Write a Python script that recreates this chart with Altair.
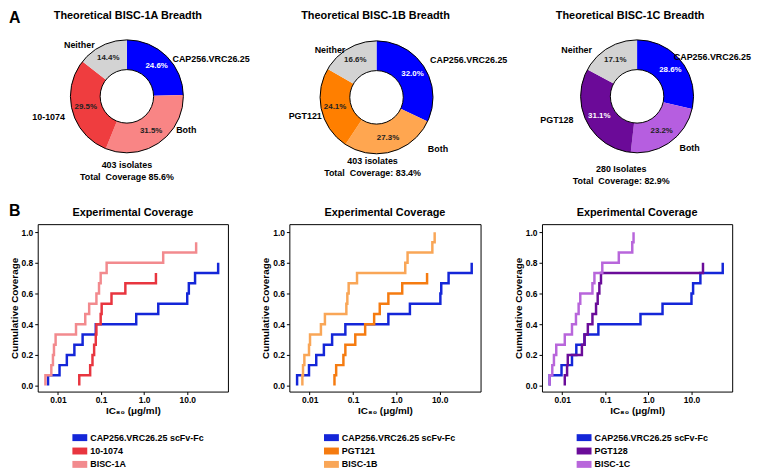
import math
import altair as alt
import pandas as pd

FONT = "Liberation Sans"

# ---------------- Panel A : theoretical breadth ----------------
TITLES_A = ["Theoretical BISC-1A Breadth", "Theoretical BISC-1B Breadth", "Theoretical BISC-1C Breadth"]
CAP_NAME = "CAP256.VRC26.25"
PARTNERS = ["10-1074", "PGT121", "PGT128"]
BOTH = "Both"
NEITHER = "Neither"
PCT_1A = [24.6, 31.5, 29.5, 14.4]   # CAP256, Both, partner, Neither
PCT_1B = [32.0, 27.3, 24.1, 16.6]
PCT_1C = [28.6, 23.2, 31.1, 17.1]
ISOLATE_TEXT = ["403 isolates", "403 isolates", "280 Isolates"]
COVERAGE_TEXT = ["Total\u00a0 Coverage 85.6%", "Total\u00a0 Coverage: 83.4%", "Total\u00a0 Coverage: 82.9%"]

# ---------------- Panel B : experimental coverage ----------------
N_ISOLATES = 15
LEGEND_NAMES = [
    ["CAP256.VRC26.25 scFv-Fc", "10-1074", "BISC-1A"],
    ["CAP256.VRC26.25 scFv-Fc", "PGT121", "BISC-1B"],
    ["CAP256.VRC26.25 scFv-Fc", "PGT128", "BISC-1C"],
]
# IC80 (ug/ml) at which each successive isolate is neutralized
CAP_1A = [0.0059, 0.0109, 0.0161, 0.0241, 0.0374, 0.0756, 0.656, 2.13, 10.0, 10.9, 15.2, 52.2]
AB_1A = [0.0313, 0.0560, 0.0634, 0.0692, 0.0756, 0.0782, 0.0982, 0.1035, 0.175, 0.367, 1.88]
BISC_1A = [0.00513, 0.00703, 0.00767, 0.0081, 0.00884, 0.0263, 0.0431, 0.0531, 0.0782, 0.0899,
           0.0982, 0.135, 2.77, 16.1]
CAP_1B = [0.00513, 0.00966, 0.0142, 0.0213, 0.0330, 0.0667, 0.656, 2.06, 10.4, 10.9, 16.1, 55.0]
AB_1B = [0.0374, 0.0409, 0.0601, 0.0667, 0.113, 0.191, 0.308, 0.415, 0.656, 1.37, 5.13]
BISC_1B = [0.00679, 0.00703, 0.00755, 0.00966, 0.0102, 0.0182, 0.0225, 0.0703, 0.0741, 0.0795,
           0.124, 1.61, 1.82, 6.79, 7.68]
CAP_1C = [0.00513, 0.00966, 0.0169, 0.0213, 0.0330, 0.0692, 0.656, 2.13, 10.0, 10.9, 16.1, 53.1]
AB_1C = [0.0115, 0.0130, 0.0135, 0.0287, 0.0330, 0.0394, 0.0504, 0.0611, 0.0667, 0.0729, 0.0795, 18.5]
BISC_1C = [0.00513, 0.0059, 0.00644, 0.00729, 0.0115, 0.0169, 0.0209, 0.0241, 0.0263, 0.0504,
           0.0560, 0.0853, 0.206, 0.423, 0.453]

X_TICKS = [0.01, 0.1, 1, 10]
X_TICK_LABELS = ["0.01", "0.1", "1.0", "10.0"]
Y_TICKS = [0.0, 0.2, 0.4, 0.6, 0.8, 1.0]

# ---------------- styles ----------------
BLUE = "#0000FF"
SLICE_COLORS = [
    [BLUE, "#F98585", "#EF3D3F", "#D3D3D3"],
    [BLUE, "#FFA650", "#FF7F00", "#D3D3D3"],
    [BLUE, "#B65EE0", "#6B0A98", "#D3D3D3"],
]
PCT_TEXT_COLORS = [
    ["white", "#222222", "#222222", "#222222"],
    ["white", "#222222", "#222222", "#222222"],
    ["white", "#222222", "white", "#222222"],
]
LINE_COLORS = [
    ["#1426D8", "#E8353F", "#F28A8E"],
    ["#1426D8", "#F57B10", "#F9A657"],
    ["#1426D8", "#6A0C99", "#B866DB"],
]

DUMMY = alt.Data(values=[{}])


def txt(s, x, y, size=9, align="center", baseline="middle", color="black"):
    return alt.Chart(DUMMY).mark_text(
        text=s, font=FONT, fontSize=size, fontWeight="bold", align=align,
        baseline=baseline, color=color,
    ).encode(x=alt.value(x), y=alt.value(y))


def donut(pcts, names, colors, tcolors, cx, cy):
    df = pd.DataFrame({
        "segment": names, "pct": pcts, "idx": list(range(len(pcts))),
        "fill": colors, "tcol": tcolors,
    })
    df["label"] = [f"{p:.1f}%" for p in pcts]
    base = alt.Chart(df).encode(
        theta=alt.Theta("pct:Q", stack=True),
        order=alt.Order("idx:Q"),
        x=alt.value(cx), y=alt.value(cy),
    )
    arcs = base.mark_arc(innerRadius=27, outerRadius=57).encode(
        color=alt.Color("fill:N", scale=None))
    ring = alt.Chart(DUMMY).mark_arc(
        innerRadius=27, outerRadius=57, theta=0, theta2=2 * math.pi,
        fillOpacity=0, stroke="black", strokeWidth=1,
    ).encode(x=alt.value(cx), y=alt.value(cy))
    pct = base.mark_text(radius=43, font=FONT, fontSize=8, fontWeight="bold").encode(
        text="label:N", color=alt.Color("tcol:N", scale=None))
    return [arcs, ring, pct]


# layout (in plot coordinates of the top layer)
CENTERS = [(90, 87), (342, 88), (605, 87)]
TITLE_X = [91, 341, 598]
LABEL_POS = [
    # Neither, CAP, partner, Both
    [(42, 35), (175, 49), (11, 108), (150, 121)],
    [(295, 40), (435, 50), (270, 107), (404, 140)],
    [(544, 40), (681, 47), (524, 111), (658, 139)],
]
FOOT_POS = [[(90, 156), (90, 168)], [(338, 152), (338, 164)], [(589, 160), (589, 172)]]

layers = [
    txt("A", -29, 0, size=16, align="left", baseline="top"),
    txt("B", -29, 195, size=16, align="left", baseline="top"),
]
pcts_all = [PCT_1A, PCT_1B, PCT_1C]
for i in range(3):
    names = [CAP_NAME, BOTH, PARTNERS[i], NEITHER]
    cx, cy = CENTERS[i]
    layers += donut(pcts_all[i], names, SLICE_COLORS[i], PCT_TEXT_COLORS[i], cx, cy)
    layers.append(txt(TITLES_A[i], TITLE_X[i], 6, size=11))
    (nx, ny), (cpx, cpy), (px, py), (bx, by) = LABEL_POS[i]
    layers.append(txt(NEITHER, nx, ny))
    layers.append(txt(CAP_NAME, cpx, cpy))
    layers.append(txt(PARTNERS[i], px, py))
    layers.append(txt(BOTH, bx, by))
    layers.append(txt(ISOLATE_TEXT[i], *FOOT_POS[i][0]))
    layers.append(txt(COVERAGE_TEXT[i], *FOOT_POS[i][1]))

top = alt.layer(*layers).properties(width=700, height=200)

# ---------------- bottom panels ----------------
X_DOMAIN = [0.0034, 88]
Y_DOMAIN = [-0.039, 1.052]
LEG_ROWS = [215.5, 229, 242.5]      # legend row centres, px below plot top

label_expr = (f"datum.value < 0.05 ? '{X_TICK_LABELS[0]}' : (datum.value < 0.5 ? '{X_TICK_LABELS[1]}' : "
              f"(datum.value < 5 ? '{X_TICK_LABELS[2]}' : '{X_TICK_LABELS[3]}'))")


def ecdf_frame(names, values):
    rows = []
    for name, vals in zip(names, values):
        rows.append({"series": name, "ic80": vals[0], "cov": 0.0, "step": 0})
        for k, v in enumerate(vals, start=1):
            rows.append({"series": name, "ic80": v, "cov": k / N_ISOLATES, "step": k})
    return pd.DataFrame(rows)


def panel(names, values, colors, width):
    df = ecdf_frame(names, values)
    xaxis = alt.Axis(values=X_TICKS, labelExpr=label_expr, title="IC\u2088\u2080 (\u03bcg/ml)",
                     titleFont=FONT, titleFontSize=10, titleFontWeight="bold", titleColor="black",
                     titlePadding=2, labelFont=FONT, labelFontSize=8.5, labelFontWeight="bold",
                     labelColor="black", labelPadding=1, tickSize=3, tickColor="black",
                     domain=False, grid=False)
    yaxis = alt.Axis(values=Y_TICKS, format=".1f", title="Cumulative Coverage",
                     titleFont=FONT, titleFontSize=10, titleFontWeight="bold", titleColor="black",
                     titlePadding=2, labelFont=FONT, labelFontSize=8.5, labelFontWeight="bold",
                     labelColor="black", labelPadding=2, tickSize=3, tickColor="black",
                     domain=False, grid=False)
    color = alt.Color("series:N", scale=alt.Scale(domain=names, range=colors), legend=None)
    lines = alt.Chart(df).mark_line(interpolate="step-after", strokeWidth=2.5, clip=True).encode(
        x=alt.X("ic80:Q", scale=alt.Scale(type="log", domain=X_DOMAIN, nice=False), axis=xaxis),
        y=alt.Y("cov:Q", scale=alt.Scale(domain=Y_DOMAIN, nice=False, zero=False), axis=yaxis),
        color=color,
        order=alt.Order("step:Q"),
    )
    leg_df = pd.DataFrame({"series": names})
    y_leg = alt.Y("series:N", axis=None,
                  scale=alt.Scale(type="point", domain=names, range=[LEG_ROWS[0], LEG_ROWS[-1]], padding=0))
    swatch = alt.Chart(leg_df).mark_rule(strokeWidth=7).encode(
        x=alt.value(35), x2=alt.value(50), y=y_leg, color=color)
    labels = alt.Chart(leg_df).mark_text(
        align="left", baseline="middle", font=FONT, fontSize=9, fontWeight="bold", color="black"
    ).encode(x=alt.value(53), y=y_leg, text="series:N")
    return alt.layer(lines, swatch, labels).resolve_scale(y="independent").properties(
        width=width, height=169,
        title=alt.TitleParams("Experimental Coverage", font=FONT, fontSize=11, fontWeight="bold",
                              color="black", offset=6, anchor="middle"),
        view=alt.ViewBackground(stroke="black", strokeWidth=1),
    )


p1 = panel(LEGEND_NAMES[0], [CAP_1A, AB_1A, BISC_1A], LINE_COLORS[0], 192)
p2 = panel(LEGEND_NAMES[1], [CAP_1B, AB_1B, BISC_1B], LINE_COLORS[1], 193)
p3 = panel(LEGEND_NAMES[2], [CAP_1C, AB_1C, BISC_1C], LINE_COLORS[2], 192)

bottom = alt.hconcat(p1, p2, p3, spacing=62, bounds="flush").resolve_scale(color="independent")

chart = alt.vconcat(top, bottom, spacing=16, bounds="flush").properties(
    padding=0, background="white"
).configure_view(strokeWidth=0)

chart.save("out.html", embed_options={"renderer": "svg", "actions": False})
